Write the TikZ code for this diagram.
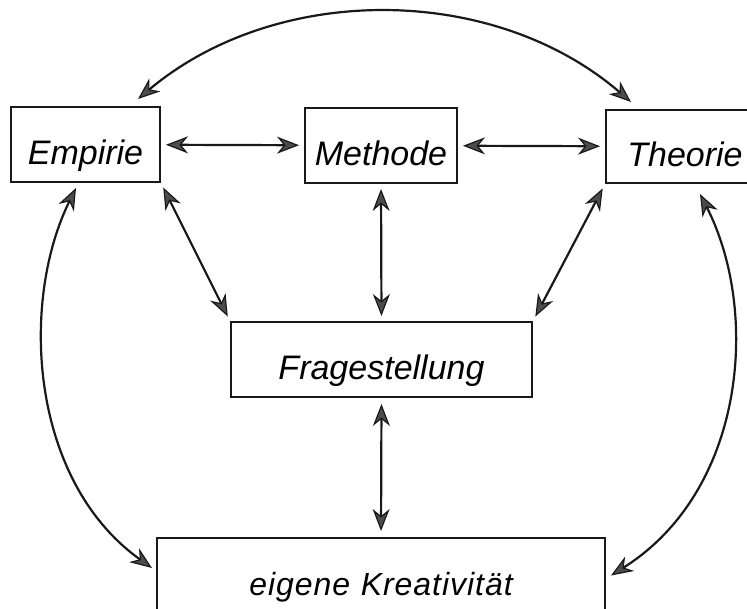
\documentclass[tikz,border=0pt]{standalone}
\usepackage{fontspec}
\setmainfont{Liberation Sans}
\usetikzlibrary{calc,arrows.meta}

\begin{document}
\begin{tikzpicture}[
  x=1pt, y=-1pt,
  field/.style={rectangle,draw=black!90,line width=2pt,inner sep=0pt,
    minimum height=75pt,text height=40pt,text depth=0pt,
    font=\fontsize{34}{40}\selectfont\itshape},
  tipend/.tip={Stealth[length=22pt,width=17pt,inset=7pt,fill=black!70,line width=1.2pt]},
  link/.style={tipend-tipend,draw=black!90,line width=2.2pt,shorten >=5pt,shorten <=5pt},
  curve/.style={tipend-tipend,draw=black!90,line width=2.2pt}
]

\fill[white] (0,0) rectangle (747,608);
\useasboundingbox (0,0) rectangle (747,608);

% boxes
\node[field,minimum width=149pt] (emp) at (85.5,144.5) {Empirie};
\node[field,minimum width=152pt] (met) at (381,145.5) {Methode};
\node[field,minimum width=158pt,minimum height=73pt] (theo) at (685,146.5) {Theorie};
\node[field,minimum width=301pt] (frage) at (381.5,359.5) {Fragestellung};
\node[field,minimum width=448pt,font=\fontsize{32}{38}\selectfont\itshape,
  text width=300pt,align=center] (krea) at (381,575.5) {\addfontfeature{LetterSpace=3}eigene Kreativität};

% straight links
\draw[link] (emp) -- (met);
\draw[link] (met) -- (theo);
\draw[link] (met.south) -- (frage.north);
\draw[link] (emp.south east) -- (frage.north west);
\draw[link] (theo.south west) -- (frage.north east);
\draw[link,shorten >=6pt,shorten <=6pt] (frage.south) -- (krea.north);

% curved links
\draw[curve] ($(emp.north east)+(-23,-7)$) .. controls +(138,-116) and +(-138,-119) .. ($(theo.north west)+(26,-7)$);
\draw[curve] ($(emp.south)+(-9.5,5)$) .. controls +(-56,113) and +(-123,-88) .. ($(krea.west)+(-4,-7.5)$);
\draw[curve] ($(theo.south)+(15,10)$) .. controls +(60,117) and +(135,-85) .. ($(krea.east)+(5,0)$);

\end{tikzpicture}
\end{document}
